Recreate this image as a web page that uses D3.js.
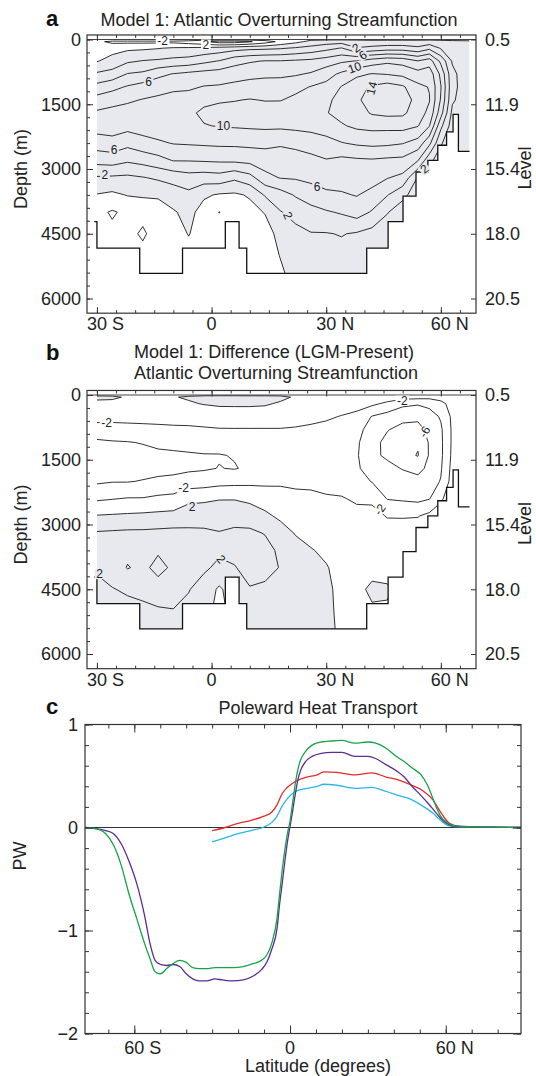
<!DOCTYPE html>
<html>
<head>
<meta charset="utf-8">
<title>Atlantic overturning and poleward heat transport</title>
<script src="https://cdn.jsdelivr.net/npm/d3@7"></script>
<style>
  body { margin: 0; background: #fff; }
  svg { display: block; font-family: "Liberation Sans", Arial, Helvetica, sans-serif; }
  .box { fill: none; stroke: #333; stroke-width: 1.2; }
  .ticks line { stroke: #333; stroke-width: 1; }
  .ticks text { font-size: 18px; fill: #222; font-family: "Liberation Sans", Arial, sans-serif; }
  .iso { fill: none; stroke: #1a1a1a; stroke-width: 0.9; }
  .bottom { fill: none; stroke: #111; stroke-width: 1.3; }
  .clab { font-size: 12px; fill: #222; }
  .txt { font-size: 18px; fill: #222; }
  .letter { font-size: 22px; font-weight: bold; fill: #111; }
  .ht { fill: none; stroke-width: 1.3; }
</style>
</head>
<body>
<svg id="fig" width="536" height="1076"></svg>
<script>
// ---------------- data ----------------
// model grid of the overturning sections
var gridLat = [-30,-26,-22,-18,-14,-10,-6,-2,2,6,10,14,18,22,26,30,34,38,42,46,50,54,57,60,63,67.5];
var gridDepth = [0,50,200,500,800,1100,1400,1700,2000,2400,2800,3200,3600,4000,4500,5000,5500];

// panel a: streamfunction (Sv), one depth profile per gridLat
var psiPresent = [
  [-0.5,-1.5,-0.8,-0.1,2.3,4.7,6.8,8.3,8.9,7.0,4.7,1.8,-0.1,-1.5,-1.5,-1.5,-1.5],
  [-0.5,-2.5,-0.6,0.6,2.8,5.4,7.3,8.6,9.0,7.3,4.9,1.7,-0.4,-2.2,-1.6,-1.5,-1.5],
  [-0.5,-2.5,-0.4,1.7,4.1,6.2,7.7,8.8,8.7,6.6,4.3,1.6,0.1,-1.6,-1.6,-1.5,-1.5],
  [-0.5,-2.5,-0.3,2.1,4.4,6.8,8.1,9.0,8.9,7.3,4.7,1.9,0.3,-1.6,-2.2,-1.6,-1.5],
  [-0.5,-2.5,-0.1,2.3,5.5,7.2,8.4,9.2,9.2,7.7,5.3,2.3,0.3,-1.0,-1.4,-1.5,-1.5],
  [-0.5,-2.5,0.2,2.6,6.1,7.6,8.7,9.5,9.4,8.1,6.1,2.7,1.0,-0.2,-1.0,-1.5,-1.5],
  [-0.5,-3.0,0.3,2.8,6.5,7.7,8.8,9.6,9.6,8.2,6.1,3.2,1.5,0.6,0.1,-0.8,-1.2],
  [-1.0,-3.8,0.5,3.5,6.8,8.1,9.5,10.4,9.9,8.3,6.2,3.0,0.3,-0.8,-1.0,-1.2,-1.5],
  [-1.0,-5.0,0.8,4.1,7.0,8.2,9.8,10.6,10.1,8.4,6.3,3.2,-0.2,-2.05,-1.0,-1.2,-1.5],
  [-1.0,-5.0,1.2,5.3,7.2,8.5,9.9,10.8,10.2,8.4,6.4,2.4,-0.3,-1.0,-1.2,-1.3,-1.5],
  [-1.0,-4.2,1.5,5.8,7.5,8.7,10.1,10.9,10.3,8.5,6.6,3.3,0.2,-0.6,-1.0,-1.2,-1.4],
  [-1.0,-3.0,1.6,6.1,7.6,8.9,9.9,11.0,10.4,8.5,7.0,5.4,2.2,0.1,-0.8,-1.2,-1.4],
  [-0.5,-1.5,1.8,6.1,7.6,9.0,9.9,11.2,10.4,8.2,7.2,6.1,3.1,1.9,0.6,0.1,-0.5],
  [-0.3,-0.5,2.2,6.3,7.8,9.4,10.5,11.3,10.6,8.3,7.5,6.2,4.2,2.6,1.5,1.0,0.8],
  [-0.3,0.5,2.7,6.5,8.2,10.1,11.0,11.6,10.9,8.5,7.7,6.5,5.0,3.3,1.9,1.3,1.0],
  [-0.3,1.0,3.4,7.0,9.2,10.6,11.5,11.9,11.2,9.2,7.9,6.9,5.6,3.8,1.9,1.3,1.0],
  [-0.3,1.2,4.1,7.7,10.4,12.1,12.8,12.6,11.8,9.9,7.5,6.8,5.8,4.2,2.1,1.4,1.0],
  [-0.3,0.8,2.1,8.1,11.6,13.2,13.7,13.2,12.4,10.3,7.7,6.9,6.1,4.9,1.8,1.2,1.0],
  [-0.3,0.5,2.6,9.0,12.1,14.3,14.8,14.2,12.6,10.5,7.8,6.8,5.4,3.8,1.3,1.0,1.0],
  [-0.3,0.6,3.0,9.6,11.9,14.9,15.5,14.5,12.6,10.4,7.6,6.1,4.1,2.1,1.0,0.8,0.8],
  [-0.3,0.6,3.0,9.3,11.5,14.3,15.0,14.4,12.7,10.1,7.5,5.5,2.5,1.0,0.8,0.8,0.8],
  [-0.3,0.6,2.4,8.1,10.8,12.5,13.3,12.9,12.1,9.2,6.1,1.8,1.0,1.0,0.8,0.8,0.8],
  [-0.3,0.8,3.5,9.0,11.2,11.9,12.1,11.5,10.1,6.5,2.5,1.0,1.0,1.0,1.0,1.0,1.0],
  [-0.3,0.5,1.8,5.5,7.5,8.1,7.8,6.8,4.5,2.2,1.0,1.0,1.0,1.0,1.0,1.0,1.0],
  [-0.3,0.3,0.8,1.8,2.5,2.6,2.3,1.5,1.0,0.8,0.6,0.5,0.5,0.5,0.5,0.5,0.5],
  [-0.3,0.2,0.4,0.6,0.6,0.6,0.6,0.5,0.5,0.5,0.5,0.5,0.5,0.5,0.5,0.5,0.5]
];

// panel b: LGM minus present (Sv)
var psiDiff = [
  [-0.3,0.4,-0.5,-1.4,-2.7,-4.4,-5.0,-5.0,-4.3,-2.3,0.1,2.2,2.8,2.3,1.4,1.0,1.0],
  [-0.3,0.3,-0.5,-1.5,-2.6,-4.2,-4.8,-4.9,-4.1,-2.1,0.2,2.3,3.3,3.0,1.9,1.2,1.0],
  [-0.3,-0.2,-0.5,-1.5,-2.5,-4.1,-4.7,-4.8,-4.1,-1.9,0.3,2.4,3.6,4.1,2.3,1.3,1.0],
  [-0.3,-0.2,-0.5,-1.4,-2.5,-3.9,-4.6,-4.7,-3.9,-1.9,0.4,2.4,3.4,3.6,2.6,1.5,1.0],
  [-0.3,-0.2,-0.4,-1.4,-2.4,-3.6,-4.4,-4.5,-3.7,-1.6,0.5,2.5,3.8,4.5,3.3,1.7,1.0],
  [-0.3,-0.1,-0.4,-1.4,-2.3,-3.5,-4.3,-4.4,-3.6,-1.4,0.6,2.6,3.4,3.7,3.0,1.9,1.2],
  [-0.3,0.2,-0.2,-1.3,-2.3,-3.4,-4.2,-4.3,-3.2,-0.4,0.9,2.5,3.0,2.8,2.1,1.5,1.0],
  [-0.3,0.5,0.1,-1.2,-2.2,-3.3,-4.1,-4.2,-3.0,-0.3,1.0,2.4,2.6,2.3,1.2,0.6,0.5],
  [-0.3,0.6,0.3,-1.1,-2.1,-3.2,-4.1,-3.95,-2.7,-0.1,1.1,2.1,2.3,1.6,-0.3,-0.5,-0.5],
  [-0.3,0.6,0.3,-1.0,-2.1,-3.1,-3.9,-4.1,-2.6,-0.1,1.2,2.4,2.5,1.9,1.0,0.6,0.5],
  [-0.3,0.5,0.3,-1.0,-2.1,-3.0,-3.6,-3.7,-2.5,-0.4,1.0,2.4,2.9,2.6,1.9,1.2,0.8],
  [-0.3,0.5,0.2,-1.0,-2.1,-2.9,-3.5,-3.5,-2.5,-0.7,0.3,1.9,2.7,2.7,1.6,1.0,0.7],
  [-0.3,0.4,-0.2,-1.0,-2.1,-2.8,-3.3,-3.3,-2.4,-1.0,-0.3,0.7,1.6,1.9,1.3,0.8,0.6],
  [-0.3,-0.2,-0.6,-1.2,-2.2,-2.8,-3.2,-3.2,-2.4,-1.5,-0.8,-0.1,0.6,0.9,0.8,0.6,0.5],
  [-0.3,-0.3,-0.7,-1.4,-2.4,-2.9,-3.1,-3.1,-2.3,-1.7,-1.2,-0.5,0.1,0.5,0.6,0.5,0.4],
  [-0.3,-0.3,-0.8,-1.7,-2.6,-3.0,-3.2,-3.1,-2.3,-1.9,-1.4,-0.9,-0.3,0.1,0.3,0.3,0.3],
  [-0.3,-0.4,-1.0,-2.1,-2.9,-3.3,-3.4,-3.3,-2.6,-1.9,-1.5,-1.1,-0.8,-0.5,-0.4,-0.3,-0.2],
  [-0.3,-0.5,-1.3,-2.5,-3.4,-3.7,-3.8,-3.7,-3.2,-2.2,-1.6,-1.2,-0.9,-0.6,-0.4,-0.3,-0.2],
  [-0.3,-0.8,-1.6,-4.1,-4.8,-5.4,-5.6,-5.0,-4.1,-2.3,-1.5,-1.1,-0.8,-0.5,0.3,-0.2,-0.2],
  [-0.3,-1.0,-2.4,-4.8,-5.9,-6.5,-6.3,-5.5,-4.6,-4.1,-2.1,-1.3,-0.9,-0.6,0.2,-0.2,-0.2],
  [-0.3,-1.3,-3.5,-5.5,-6.5,-7.2,-7.4,-6.1,-5.2,-4.3,-2.1,-1.4,-1.0,-0.7,-0.5,-0.4,-0.3],
  [-0.3,-1.4,-3.8,-5.6,-6.6,-7.8,-8.1,-6.6,-5.4,-4.5,-2.1,-1.0,-0.8,-0.6,-0.5,-0.4,-0.3],
  [-0.3,-1.5,-3.5,-4.8,-5.5,-5.8,-5.8,-5.5,-4.8,-4.1,-1.5,-0.8,-0.7,-0.6,-0.5,-0.4,-0.3],
  [-0.3,-1.2,-2.6,-3.8,-4.3,-4.4,-4.4,-4.2,-3.9,-2.3,-1.0,-0.7,-0.6,-0.5,-0.5,-0.4,-0.3],
  [-0.3,-0.6,-1.2,-1.6,-1.7,-1.7,-1.6,-1.4,-1.2,-0.9,-0.6,-0.5,-0.5,-0.5,-0.5,-0.5,-0.5],
  [-0.3,-0.3,-0.4,-0.4,-0.4,-0.4,-0.4,-0.4,-0.4,-0.4,-0.4,-0.4,-0.4,-0.4,-0.4,-0.4,-0.4]
];

var levelsPresent = [-6,-4,-2,0,2,4,6,8,10,12,14,16];
var levelsDiff = [-8,-6,-4,-2,0,2,4];

// ocean bottom: segment edges (lat) and depth of each segment
var bottomLat = [-30.7,-30,-18.8,-7.6,3.6,7.2,9.2,40.6,46.2,50.1,53.5,56.6,59.2,61.5,63.2,64.6,67.5];
var bottomDepth = [4220,4835,5420,4835,4220,4835,5420,4835,4220,3630,3070,2800,2450,2140,1735,2590];

var depthTicks = [0,1500,3000,4500,6000];
var levelNames = ["0.5","11.9","15.4","18.0","20.5"];
var sectionLatTicks = [-30,0,30,60];
var sectionLatNames = ["30 S","0","30 N","60 N"];

// contour labels
var labAlat = [-12.8,-1.5,-16.5,3.1,-25.5,-27.9,27.6,20,37.8,39.6,37.4,41.9,55.7];
var labAdepth = [20,115,980,2010,2560,3140,3420,4080,195,360,650,1130,3000];
var labAtext = ["-2","2","6","10","6","2","6","2","2","6","10","14","2"];
var labAangle = [0,0,0,0,0,0,0,65,-35,-35,-20,-75,-40];

var labBlat = [-27.5,49.9,-7.3,-5.1,55.7,44,2.5,-29.3];
var labBdepth = [640,130,2150,2600,850,2650,3800,4150];
var labBtext = ["-2","-2","-2","2","-6","-2","2","2"];
var labBangle = [0,0,0,0,-60,-55,50,0];

// panel c: poleward heat transport (PW)
var htLat = [-79,-75,-71,-68,-65,-62,-59,-56,-54,-52,-50,-47.5,-45,-42.5,-40,-37.5,-35,-32,-29,-26,
  -22,-18,-14,-11,-9,-7,-5,-4,-3,-2,-1,0,1,2,3,4,6,8.5,12,16,20,25,30,33,37,41,44,47,50.5,53,56,58,61,64,70,80,89];
var htGreen = [0,-0.01,-0.06,-0.17,-0.37,-0.65,-0.89,-1.13,-1.27,-1.40,-1.42,-1.37,-1.32,-1.29,-1.31,
  -1.36,-1.37,-1.37,-1.36,-1.36,-1.36,-1.35,-1.32,-1.29,-1.24,-1.12,-0.88,-0.64,-0.41,-0.22,
  -0.06,0.06,0.24,0.42,0.56,0.65,0.74,0.80,0.83,0.84,0.845,0.82,0.83,0.82,0.77,
  0.69,0.64,0.58,0.51,0.41,0.22,0.11,0.04,0.015,0.007,0.003,0];
var htPurple = [0,-0.01,-0.03,-0.06,-0.16,-0.33,-0.55,-0.86,-1.12,-1.29,-1.33,-1.34,-1.33,-1.35,-1.42,
  -1.47,-1.49,-1.49,-1.47,-1.48,-1.49,-1.48,-1.44,-1.38,-1.31,-1.18,-0.98,-0.74,-0.54,-0.33,
  -0.14,0.01,0.16,0.32,0.46,0.55,0.64,0.69,0.72,0.73,0.73,0.69,0.69,0.67,0.61,
  0.55,0.49,0.40,0.31,0.24,0.15,0.09,0.03,0.01,0.005,0.002,0];
var htLatShort = [-30,-25,-20,-15,-10,-7,-5,-3,-1,1,3,6.5,10.5,13,18,25,31.5,37,42,46,51,55,58,61.5,65,72,80,89];
var htRed = [-0.03,0.0,0.04,0.07,0.11,0.15,0.22,0.33,0.39,0.43,0.46,0.49,0.51,0.54,0.535,0.51,0.53,0.49,
  0.46,0.42,0.36,0.27,0.15,0.04,0.012,0.006,0.003,0];
var htCyan = [-0.14,-0.10,-0.06,-0.03,0.005,0.05,0.11,0.21,0.28,0.33,0.36,0.38,0.40,0.42,0.41,0.38,0.39,0.35,
  0.31,0.28,0.21,0.14,0.07,0.015,0.006,0.004,0.002,0];
var pwTicks = [-2,-1,0,1];
var pwNames = ["\u22122","\u22121","0","1"];
var htLatTicks = [-60,0,60];
var htLatNames = ["60 S","0","60 N"];

// ---------------- drawing ----------------
var svg = d3.select("#fig");
var grey = "#e8e9ee";

var xAB = d3.scaleLinear().domain([-32.6, 69.2]).range([87, 476]);
var yA = d3.scaleLinear().domain([0, 6000]).range([39.5, 298.5]);
var yB = d3.scaleLinear().domain([0, 6000]).range([395, 654]);
var boxDepth = [-105, 6340];

function ticks(axis, transform) {
  var g = svg.append("g").attr("class", "ticks").attr("transform", transform).call(axis);
  g.select(".domain").remove();
  return g;
}

function latLabels(x, vals, names, baseline) {
  vals.forEach(function(v, k) {
    var parts = names[k].split(" ");
    var t = svg.append("text").attr("class", "txt").attr("y", baseline).style("white-space", "pre");
    var num = t.append("tspan").text(parts[0]);
    if (parts[1]) t.append("tspan").text(" " + parts[1]);
    t.attr("x", x(v) - num.node().getComputedTextLength() / 2);
  });
}

function vtext(txt, x, y) {
  svg.append("text").attr("class", "txt").attr("text-anchor", "middle")
    .attr("transform", "translate(" + x + "," + y + ") rotate(-90)").text(txt);
}

// contour lines without the grid border pieces
function isoline(band, nx, ny, px, py) {
  var d = "";
  function seg(run) {
    if (run.length < 2) return "";
    return "M" + run.map(function(p) { return px(p[0]).toFixed(2) + "," + py(p[1]).toFixed(2); }).join("L");
  }
  band.coordinates.forEach(function(poly) {
    poly.forEach(function(ring) {
      var run = [ring[0]];
      for (var k = 1; k < ring.length; k++) {
        var a = ring[k - 1], b = ring[k];
        var edge = (a[0] <= 0.5 && b[0] <= 0.5) || (a[0] >= nx - 0.5 && b[0] >= nx - 0.5) ||
                   (a[1] <= 0.5 && b[1] <= 0.5) || (a[1] >= ny - 0.5 && b[1] >= ny - 0.5);
        if (edge) { d += seg(run); run = [b]; }
        else run.push(b);
      }
      d += seg(run);
    });
  });
  return d;
}

function drawSection(psi, levels, y, id, labLat, labDepth, labText, labAngle) {
  var nx = gridLat.length, ny = gridDepth.length;
  var values = [];
  for (var i = 0; i < ny; i++) for (var j = 0; j < nx; j++) values.push(psi[j][i]);
  var latAt = d3.scaleLinear().domain(d3.range(nx)).range(gridLat).clamp(true);
  var depAt = d3.scaleLinear().domain(d3.range(ny)).range(gridDepth).clamp(true);
  var px = function(c) { return xAB(latAt(c - 0.5)); };
  var py = function(c) { return y(depAt(c - 0.5)); };
  var bands = d3.contours().size([nx, ny]).thresholds(levels)(values);

  // ocean mask
  var ocean = [[gridLat[0], 0], [gridLat[nx - 1], 0]];
  for (var k = bottomDepth.length - 1; k >= 0; k--) {
    ocean.push([Math.max(bottomLat[k + 1], gridLat[0]), bottomDepth[k]]);
    ocean.push([Math.max(bottomLat[k], gridLat[0]), bottomDepth[k]]);
  }
  svg.append("clipPath").attr("id", id).append("path")
    .attr("d", "M" + ocean.map(function(p) { return xAB(p[0]) + "," + y(p[1]); }).join("L") + "Z");

  var path = d3.geoPath(d3.geoTransform({ point: function(a, b) { this.stream.point(px(a), py(b)); } }));
  var inner = svg.append("g").attr("clip-path", "url(#" + id + ")");
  inner.append("path").datum(bands.find(function(b) { return b.value === 0; }))
    .attr("d", path).attr("fill", grey).attr("fill-rule", "evenodd");
  inner.selectAll("path.iso").data(bands).join("path").attr("class", "iso")
    .attr("d", function(b) { return isoline(b, nx, ny, px, py); });

  // sea surface and bottom
  svg.append("line").attr("x1", xAB.range()[0]).attr("x2", xAB.range()[1])
    .attr("y1", y(0)).attr("y2", y(0)).attr("stroke", "#444").attr("stroke-width", 1);
  var steps = bottomDepth.map(function(dp, k) { return [bottomLat[k], dp]; });
  steps.push([bottomLat[bottomLat.length - 1], bottomDepth[bottomDepth.length - 1]]);
  svg.append("path").attr("class", "bottom")
    .attr("d", d3.line().x(function(p) { return xAB(p[0]); }).y(function(p) { return y(p[1]); })
      .curve(d3.curveStepAfter)(steps));

  // contour labels
  var ji = d3.scaleLinear().domain(gridLat).range(d3.range(nx)).clamp(true);
  var ii = d3.scaleLinear().domain(gridDepth).range(d3.range(ny)).clamp(true);
  function sample(la, dp) {
    var fj = ji(la), fi = ii(dp);
    var j0 = Math.min(Math.floor(fj), nx - 2), i0 = Math.min(Math.floor(fi), ny - 2);
    var tj = fj - j0, ti = fi - i0;
    return (1 - tj) * (1 - ti) * psi[j0][i0] + tj * (1 - ti) * psi[j0 + 1][i0] +
           (1 - tj) * ti * psi[j0][i0 + 1] + tj * ti * psi[j0 + 1][i0 + 1];
  }
  labLat.forEach(function(la, k) {
    var lg = svg.append("g").attr("transform",
      "translate(" + xAB(la) + "," + y(labDepth[k]) + ") rotate(" + labAngle[k] + ")");
    var bg = lg.append("rect");
    var t = lg.append("text").attr("class", "clab").attr("text-anchor", "middle").attr("dy", "0.35em").text(labText[k]);
    var w = t.node().getComputedTextLength();
    bg.attr("x", -w / 2 - 1.5).attr("y", -5).attr("width", w + 3).attr("height", 10)
      .attr("fill", sample(la, labDepth[k]) >= 0 ? grey : "#fff");
  });

  // frame and ticks
  var x0 = xAB.range()[0], x1 = xAB.range()[1];
  var top = y(boxDepth[0]), bot = y(boxDepth[1]);
  svg.append("rect").attr("class", "box").attr("x", x0).attr("y", top)
    .attr("width", x1 - x0).attr("height", bot - top);
  ticks(d3.axisLeft(y).tickValues(d3.range(0, 6001, 300)).tickSize(-3).tickFormat(""), "translate(" + x0 + ",0)");
  ticks(d3.axisLeft(y).tickValues(depthTicks).tickSize(-6).tickPadding(6).tickFormat(d3.format("d")),
    "translate(" + x0 + ",0)");
  ticks(d3.axisRight(y).tickValues(depthTicks).tickSize(-5).tickPadding(9)
    .tickFormat(function(d, i) { return levelNames[i]; }), "translate(" + x1 + ",0)");
  var minorLat = d3.range(-30, 66, 5);
  ticks(d3.axisBottom(xAB).tickValues(minorLat).tickSize(-3).tickFormat(""), "translate(0," + bot + ")");
  ticks(d3.axisBottom(xAB).tickValues(sectionLatTicks).tickSize(-6).tickFormat(""), "translate(0," + bot + ")");
  ticks(d3.axisTop(xAB).tickValues(minorLat).tickSize(-3).tickFormat(""), "translate(0," + top + ")");
  ticks(d3.axisTop(xAB).tickValues(sectionLatTicks).tickSize(-6).tickFormat(""), "translate(0," + top + ")");
  latLabels(xAB, sectionLatTicks, sectionLatNames, bot + 17);
  vtext("Depth (m)", 27, (y(0) + y(6000)) / 2);
  vtext("Level", 531, (y(0) + y(6000)) / 2 - 1);
}

// panel a
svg.append("text").attr("class", "letter").attr("x", 46).attr("y", 26).text("a");
svg.append("text").attr("class", "txt").attr("x", 279).attr("y", 26).attr("text-anchor", "middle")
  .text("Model 1: Atlantic Overturning Streamfunction");
drawSection(psiPresent, levelsPresent, yA, "oceanA", labAlat, labAdepth, labAtext, labAangle);

// panel b
svg.append("text").attr("class", "letter").attr("x", 46).attr("y", 360).text("b");
svg.append("text").attr("class", "txt").attr("x", 274).attr("y", 358).attr("text-anchor", "middle")
  .text("Model 1: Difference (LGM-Present)");
svg.append("text").attr("class", "txt").attr("x", 276).attr("y", 379).attr("text-anchor", "middle")
  .text("Atlantic Overturning Streamfunction");
drawSection(psiDiff, levelsDiff, yB, "oceanB", labBlat, labBdepth, labBtext, labBangle);

// panel c
var xC = d3.scaleLinear().domain([-79, 89]).range([85, 521]);
var yC = d3.scaleLinear().domain([-2, 1]).range([1033.5, 724.5]);
svg.append("text").attr("class", "letter").attr("x", 46).attr("y", 714).text("c");
svg.append("text").attr("class", "txt").attr("x", 318).attr("y", 714).attr("text-anchor", "middle")
  .text("Poleward Heat Transport");

svg.append("line").attr("x1", xC(-79)).attr("x2", xC(89)).attr("y1", yC(0)).attr("y2", yC(0))
  .attr("stroke", "#333").attr("stroke-width", 1.2);

var htLine = d3.line().x(function(d) { return xC(d[0]); }).y(function(d) { return yC(d[1]); })
  .curve(d3.curveMonotoneX);
var series = [
  { lat: htLatShort, v: htCyan, color: "#2bb5ea" },
  { lat: htLatShort, v: htRed, color: "#e52b2b" },
  { lat: htLat, v: htPurple, color: "#5b2c92" },
  { lat: htLat, v: htGreen, color: "#17a34a" }
];
series.forEach(function(s) {
  svg.append("path").attr("class", "ht").attr("stroke", s.color)
    .attr("d", htLine(s.lat.map(function(l, k) { return [l, s.v[k]]; })));
});

svg.append("rect").attr("class", "box").attr("x", xC.range()[0]).attr("y", yC(1))
  .attr("width", xC.range()[1] - xC.range()[0]).attr("height", yC(-2) - yC(1));
var cl = xC.range()[0], cr = xC.range()[1], ct = yC(1), cb = yC(-2);
var pwMinor = d3.range(-2, 1.001, 0.2);
ticks(d3.axisLeft(yC).tickValues(pwMinor).tickSize(-4).tickFormat(""), "translate(" + cl + ",0)");
ticks(d3.axisLeft(yC).tickValues(pwTicks).tickSize(-8).tickPadding(7)
  .tickFormat(function(d, i) { return pwNames[i]; }), "translate(" + cl + ",0)");
ticks(d3.axisRight(yC).tickValues(pwMinor).tickSize(-4).tickFormat(""), "translate(" + cr + ",0)");
ticks(d3.axisRight(yC).tickValues(pwTicks).tickSize(-8).tickFormat(""), "translate(" + cr + ",0)");
var latMinorC = d3.range(-70, 81, 10);
ticks(d3.axisBottom(xC).tickValues(latMinorC).tickSize(-4).tickFormat(""), "translate(0," + cb + ")");
ticks(d3.axisBottom(xC).tickValues(htLatTicks).tickSize(-8).tickFormat(""), "translate(0," + cb + ")");
ticks(d3.axisTop(xC).tickValues(latMinorC).tickSize(-4).tickFormat(""), "translate(0," + ct + ")");
ticks(d3.axisTop(xC).tickValues(htLatTicks).tickSize(-8).tickFormat(""), "translate(0," + ct + ")");
latLabels(xC, htLatTicks, htLatNames, 1054);
vtext("PW", 26, 856);
svg.append("text").attr("class", "txt").attr("x", 318).attr("y", 1072).attr("text-anchor", "middle")
  .text("Latitude (degrees)");
</script>
</body>
</html>
